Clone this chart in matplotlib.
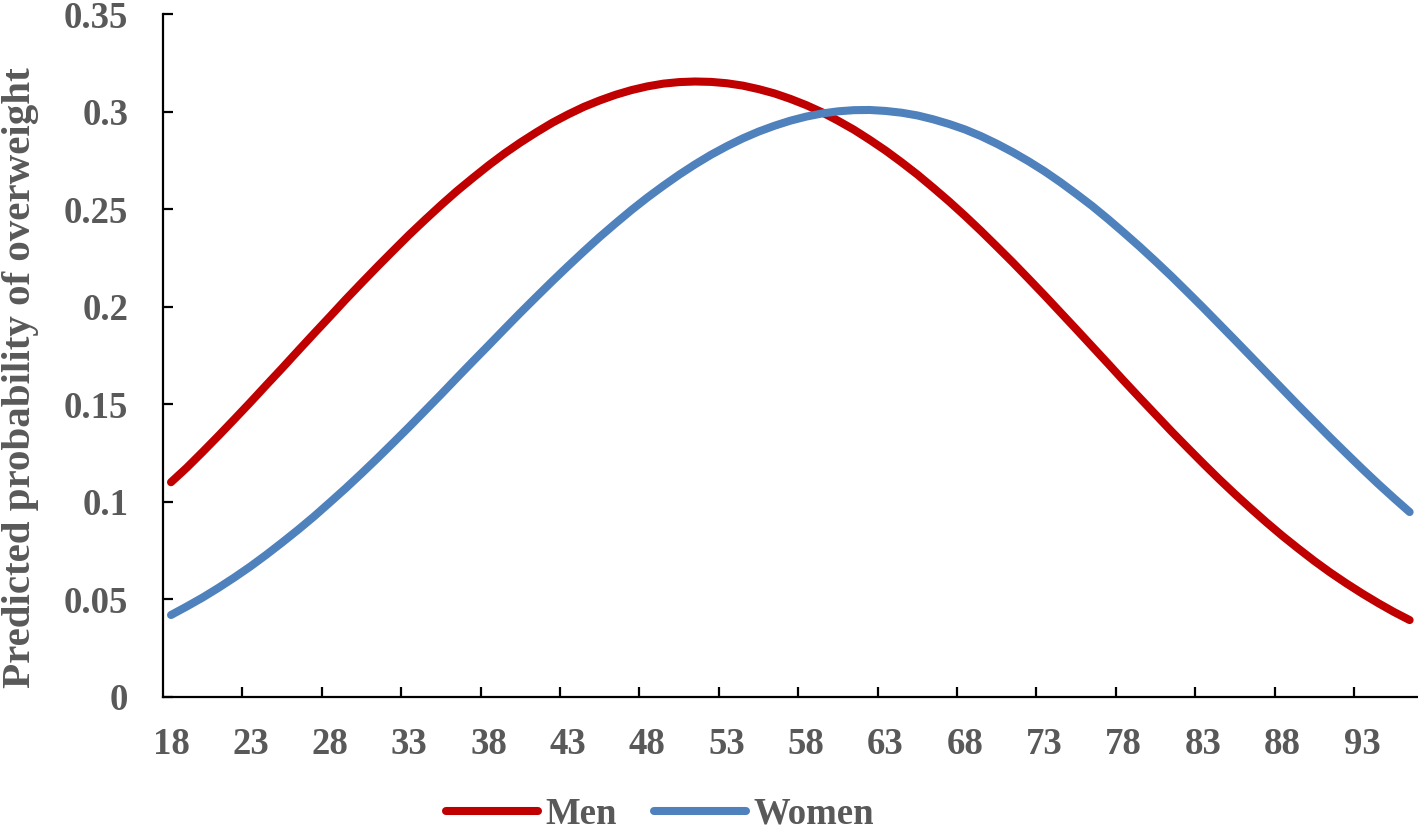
import numpy as np
import matplotlib
matplotlib.use('Agg')
from matplotlib import pyplot as plt

plt.rcParams['font.family'] = ['Liberation Serif', 'DejaVu Serif']
plt.rcParams['font.weight'] = 'bold'

# data, one value per year of age
ages = list(range(18, 97))
men = [0.110, 0.1175, 0.1256, 0.1339, 0.1424, 0.1510, 0.1598, 0.1685, 0.1774, 0.1862,
       0.1949, 0.2037, 0.2122, 0.2206, 0.2288, 0.2369, 0.2446, 0.2521, 0.2593, 0.2660,
       0.2725, 0.2786, 0.2842, 0.2894, 0.2943, 0.2986, 0.3025, 0.3058, 0.3087, 0.3111,
       0.3130, 0.3144, 0.3152, 0.3155, 0.3153, 0.3146, 0.3134, 0.3116, 0.3094, 0.3066,
       0.3034, 0.2997, 0.2954, 0.2908, 0.2856, 0.2801, 0.2741, 0.2678, 0.2610, 0.2540,
       0.2466, 0.2389, 0.2309, 0.2228, 0.2144, 0.2059, 0.1972, 0.1885, 0.1797, 0.1709,
       0.1620, 0.1533, 0.1447, 0.1361, 0.1278, 0.1196, 0.1116, 0.1039, 0.0965, 0.0893,
       0.0824, 0.0759, 0.0696, 0.0637, 0.0582, 0.0530, 0.0481, 0.0435, 0.0393]
women = [0.0419, 0.0463, 0.0509, 0.0559, 0.0612, 0.0668, 0.0728, 0.0791, 0.0856, 0.0924,
         0.0996, 0.1069, 0.1145, 0.1223, 0.1303, 0.1384, 0.1467, 0.1550, 0.1635, 0.1719,
         0.1802, 0.1886, 0.1969, 0.2050, 0.2130, 0.2208, 0.2284, 0.2358, 0.2428, 0.2496,
         0.2560, 0.2620, 0.2677, 0.2730, 0.2779, 0.2823, 0.2863, 0.2898, 0.2928, 0.2954,
         0.2975, 0.2991, 0.3002, 0.3008, 0.3009, 0.3004, 0.2995, 0.2981, 0.2961, 0.2937,
         0.2909, 0.2875, 0.2836, 0.2793, 0.2746, 0.2695, 0.2639, 0.2579, 0.2517, 0.2450,
         0.2380, 0.2308, 0.2233, 0.2156, 0.2076, 0.1995, 0.1912, 0.1829, 0.1745, 0.1661,
         0.1577, 0.1493, 0.1411, 0.1329, 0.1249, 0.1170, 0.1093, 0.1019, 0.0947]
x_labels = [str(a) for a in range(18, 94, 5)]
y_ticks = [0, 0.05, 0.1, 0.15, 0.2, 0.25, 0.3, 0.35]
y_labels = ['0', '0.05', '0.1', '0.15', '0.2', '0.25', '0.3', '0.35']

gray = '#595959'
fs = 26.5

fig = plt.figure(figsize=(14.18, 8.32), dpi=100)
ax = fig.add_axes([0.1150, 0.1626, 0.8847, 0.8203])

ax.plot(ages, men, color='#C00000', lw=5.8, solid_capstyle='round', label='Men')
ax.plot(ages, women, color='#4F81BD', lw=5.8, solid_capstyle='round', label='Women')

ax.set_xlim(17.5, 96.5)
ax.set_ylim(0, 0.35)

for s in ['top', 'right']:
    ax.spines[s].set_visible(False)
for s in ['left', 'bottom']:
    ax.spines[s].set_linewidth(1.6)
    ax.spines[s].set_color('black')

# category boundaries get the tick marks, category centres get the labels
ax.set_xticks([a - 0.5 for a in range(23, 94, 5)])
ax.set_xticklabels([])
ax.set_xticks([int(l) for l in x_labels], minor=True)
ax.set_xticklabels(x_labels, minor=True)
ax.tick_params(axis='x', which='major', direction='in', length=7, width=1.6)
ax.tick_params(axis='x', which='minor', length=0, pad=22, labelsize=fs, labelcolor=gray)

ax.set_yticks(y_ticks)
ax.set_yticklabels(y_labels)
ax.tick_params(axis='y', direction='in', length=7, width=1.6, pad=25,
               labelsize=fs, labelcolor=gray)

for lab in ax.get_xticklabels(minor=True) + ax.get_yticklabels():
    lab.set_fontweight('bold')

fig.text(21 / 1418, 1 - 378 / 832, 'Predicted probability of overweight',
         rotation=90, ha='center', va='center', fontsize=29.5, color=gray,
         fontweight='bold')

leg = fig.legend(loc='center', bbox_to_anchor=(660 / 1418, 1 - 814 / 832), ncol=2,
                 frameon=False, fontsize=fs, handlelength=2.5, handletextpad=0.2,
                 columnspacing=1.0, borderpad=0)
for t in leg.get_texts():
    t.set_color(gray)
    t.set_fontweight('bold')

fig.savefig('out.png', dpi=100)
